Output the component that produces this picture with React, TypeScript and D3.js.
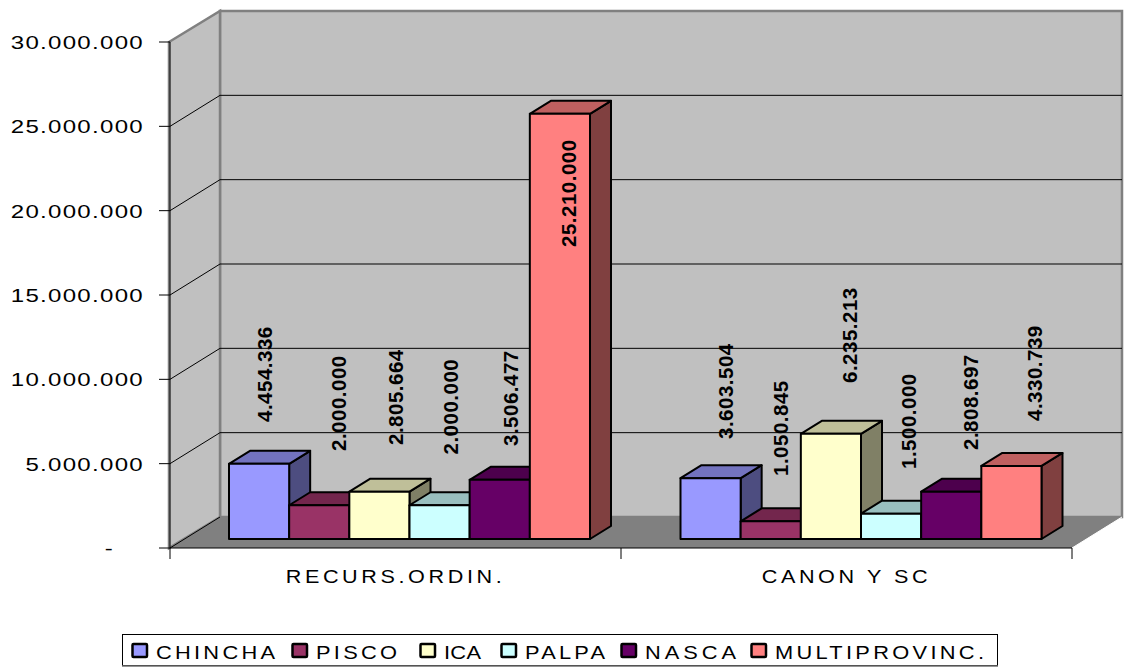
import React from "react";
import * as d3 from "d3";

const categories = ["RECURS.ORDIN.", "CANON Y SC"];
const seriesNames = ["CHINCHA", "PISCO", "ICA", "PALPA", "NASCA", "MULTIPROVINC."];
const recursOrdin = [4454336, 2000000, 2805664, 2000000, 3506477, 25210000];
const canonSc = [3603504, 1050845, 6235213, 1500000, 2808697, 4330739];
const groups = [recursOrdin, canonSc];
const ticks = [0, 5000000, 10000000, 15000000, 20000000, 25000000, 30000000];
const fronts = ["#9999FF", "#993366", "#FFFFCC", "#CCFFFF", "#660066", "#FF8080"];

// layout constants
const W = 1125, H = 668;
const L = 170, R = 1072, B = 548, T = 42, DX = 50, DY = -31;
const BAR_DX = 21, BAR_DY = -13, BASE_LIFT = 9;
const FONT = "'Liberation Sans', Arial, sans-serif";
// hand placed rotated value labels: [x of baseline, y of bottom end]
const labelPlace: [number, number][][] = [
  [[272, 422], [345.5, 451], [403, 445], [458, 454.5], [518, 446], [576, 247]],
  [[733, 439], [788, 476], [857, 383], [916, 469], [978, 450], [1042, 421]],
];
const legendSwatchX = [132, 292, 420, 501, 621, 751];
const legendTextLen = [119, 81, 37, 80, 91, 209];
const LEGEND_SX = 1.18;

const fmt = (v: number) => d3.format(",")(v).replace(/,/g, ".");
const y = d3.scaleLinear().domain([0, 30000000]).range([B, T]);
const x0 = d3.scaleBand<string>().domain(categories).range([L, R]);
const x1 = d3.scaleBand<string>().domain(seriesNames).range([0, 361]);
const shade = (c: string, k: number) => {
  const r = d3.rgb(c);
  return d3.rgb(r.r * k, r.g * k, r.b * k).formatHex();
};
const pts = (a: number[][]) => a.map((p) => p.join(",")).join(" ");

function Box({ v, cat, name, color }: { v: number; cat: string; name: string; color: string }) {
  const xa = (x0(cat) as number) + 59 + (x1(name) as number) + (cat === categories[1] ? 0.5 : 0);
  const w = x1.bandwidth();
  const top = y(v) - BASE_LIFT;
  const bot = y(0) - BASE_LIFT;
  const common = { stroke: "#000", strokeWidth: 2, strokeLinejoin: "round" as const };
  return (
    <g>
      <polygon points={pts([[xa + w, top], [xa + w + BAR_DX, top + BAR_DY], [xa + w + BAR_DX, bot + BAR_DY], [xa + w, bot]])} fill={shade(color, 0.5)} {...common} />
      <polygon points={pts([[xa, top], [xa + BAR_DX, top + BAR_DY], [xa + w + BAR_DX, top + BAR_DY], [xa + w, top]])} fill={shade(color, 0.75)} {...common} />
      <rect x={xa} y={top} width={w} height={bot - top} fill={color} {...common} />
    </g>
  );
}

export default function App() {
  return (
    <svg width={W} height={H} style={{ position: "absolute", left: 0, top: 0, background: "#fff" }} fontFamily={FONT}>
      {/* back wall */}
      <rect x={L + DX} y={T + DY} width={R - L} height={B - T} fill="#C0C0C0" stroke="#808080" strokeWidth={2.5} />
      {/* side wall */}
      <polygon points={pts([[L - 1, T], [L + DX, T + DY], [L + DX, B + DY], [L - 1, B]])} fill="#C0C0C0" stroke="#808080" strokeWidth={2.5} />
      {/* grid */}
      {ticks.slice(1, -1).map((t) => (
        <g key={t} stroke="#000" strokeWidth={1} fill="none">
          <polyline points={pts([[L, y(t)], [L + DX, y(t) + DY], [R + DX, y(t) + DY]])} />
        </g>
      ))}
      {/* floor */}
      <polygon points={pts([[L, B], [R, B], [R + DX, B + DY], [L + DX, B + DY]])} fill="#808080" />
      <line x1={R} y1={B} x2={R + DX} y2={B + DY} stroke="#fff" strokeWidth={1} />
      {/* axes */}
      <line x1={L} y1={T} x2={L} y2={B} stroke="#000" />
      <line x1={L} y1={B} x2={R} y2={B} stroke="#000" />
      <line x1={L} y1={B} x2={L + DX} y2={B + DY} stroke="#000" />
      {ticks.map((t) => (
        <g key={t}>
          <line x1={L - 11} x2={L} y1={y(t)} y2={y(t)} stroke="#000" />
          <text transform={`translate(${t === 0 ? 114 : 144},${y(t) + 7}) scale(1.3,1)`} textAnchor="end" fontSize={18.5} letterSpacing={1} fill="#000">
            {t === 0 ? "-" : fmt(t)}
          </text>
        </g>
      ))}
      {[L, x0(categories[1]) as number, R].map((xt) => (
        <line key={xt} x1={xt} x2={xt} y1={B} y2={B + 11} stroke="#000" />
      ))}
      {/* bars */}
      {categories.map((cat, gi) => (
        <g key={cat}>
          {seriesNames.map((name, i) => (
            <Box key={name} v={groups[gi][i]} cat={cat} name={name} color={fronts[i]} />
          ))}
        </g>
      ))}
      {/* value labels */}
      {categories.map((cat, gi) =>
        groups[gi].map((v, i) => (
          <text key={cat + i} transform={`translate(${labelPlace[gi][i][0]},${labelPlace[gi][i][1]}) rotate(-90)`} fontSize={20.5} fontWeight={700} letterSpacing={0.5} fill="#000">
            {fmt(v)}
          </text>
        ))
      )}
      {/* category labels */}
      {categories.map((cat) => (
        <text key={cat} transform={`translate(${(x0(cat) as number) + x0.bandwidth() / 2},583) scale(1.2,1)`} textAnchor="middle" fontSize={18} letterSpacing={3} fill="#000">
          {cat}
        </text>
      ))}
      {/* legend */}
      <rect x={122.5} y={634.5} width={875} height={31} fill="#fff" stroke="#000" strokeWidth={1} />
      <line x1={122} x2={998} y1={666} y2={666} stroke="#707070" strokeWidth={1.5} />
      {seriesNames.map((name, i) => (
        <g key={name}>
          <rect x={legendSwatchX[i] + 0.5} y={644} width={14.5} height={13} rx={1} fill={fronts[i]} stroke="#000" strokeWidth={2.5} />
          <text transform={`translate(${legendSwatchX[i] + 24},659) scale(${LEGEND_SX},1)`} fontSize={18.5} textLength={legendTextLen[i] / LEGEND_SX} lengthAdjust="spacing" fill="#000">
            {name}
          </text>
        </g>
      ))}
    </svg>
  );
}
